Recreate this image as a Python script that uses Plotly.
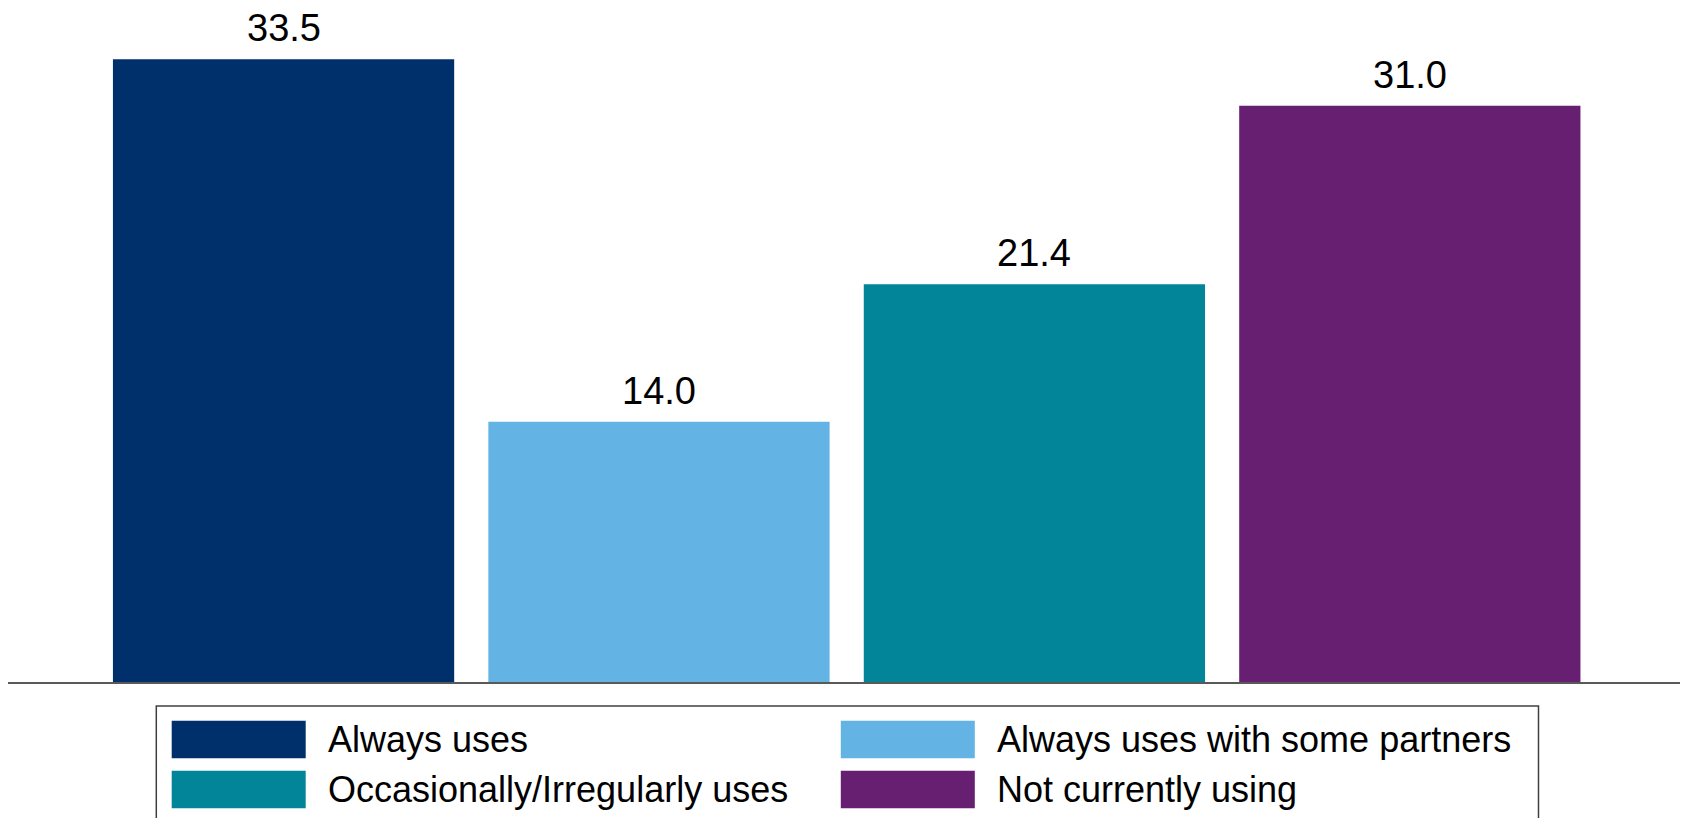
import plotly.graph_objects as go

categories = ["Always uses", "Always uses with some partners",
              "Occasionally/Irregularly uses", "Not currently using"]
values = [33.5, 14.0, 21.4, 31.0]
labels = ["33.5", "14.0", "21.4", "31.0"]
colors = ["#00306C", "#63B4E4", "#028599", "#661F71"]

# page body has an 8px margin; figure coordinates are reference minus 8
OFF = 8
W, H = 1680, 810
ML, MR, MT, MB = 0, 3, 30, 136
PW, PH = W - ML - MR, H - MT - MB

FONT = "Liberation Sans, Arial, sans-serif"

fig = go.Figure()
for cat, val, col in zip(categories, values, colors):
    fig.add_trace(go.Bar(
        x=[cat], y=[val], name=cat, width=0.909,
        marker=dict(color=col, line=dict(width=0)),
        showlegend=False, hoverinfo="x+y",
    ))

annotations = []
for cat, val, lab in zip(categories, values, labels):
    annotations.append(dict(
        x=cat, y=val, xref="x", yref="y", text=lab, showarrow=False,
        yanchor="bottom", yshift=8,
        font=dict(family=FONT, size=38, color="#000000"),
    ))

def px_x(px):
    return (px - OFF - ML) / PW

def px_y(py):
    return (H - MB - (py - OFF)) / PH

# custom legend (2 columns x 2 rows)
col_x = [171.7, 840.8]
row_y = [720.7, 770.7]
sw_w, sw_h = 134, 37.5
shapes = [dict(type="rect", xref="paper", yref="paper",
               x0=px_x(156.3), x1=px_x(1538.5), y0=px_y(706), y1=px_y(840),
               line=dict(color="#404040", width=1.5), fillcolor="rgba(0,0,0,0)")]
for i, idx in enumerate(range(len(categories))):
    r, c = divmod(i, 2)
    x0 = col_x[c]
    y0 = row_y[r]
    shapes.append(dict(type="rect", xref="paper", yref="paper",
                       x0=px_x(x0), x1=px_x(x0 + sw_w),
                       y0=px_y(y0 + sw_h), y1=px_y(y0),
                       line=dict(width=0), fillcolor=colors[idx]))
    annotations.append(dict(
        xref="paper", yref="paper", x=px_x(x0 + sw_w + 20), y=px_y(y0 + sw_h / 2),
        xanchor="left", yanchor="middle", showarrow=False,
        text=categories[idx], font=dict(family=FONT, size=36, color="#000000"),
    ))

fig.update_layout(
    width=W, height=H,
    margin=dict(l=ML, r=MR, t=MT, b=MB, pad=0),
    paper_bgcolor="white", plot_bgcolor="white",
    barmode="overlay",
    xaxis=dict(range=[-0.734, 3.733], showticklabels=False, ticks="",
               showgrid=False, zeroline=False, showline=True,
               linecolor="#595959", linewidth=1.5, fixedrange=True),
    yaxis=dict(range=[0, PH / 18.59], visible=False, showgrid=False,
               zeroline=False, fixedrange=True),
    annotations=annotations,
    shapes=shapes,
    showlegend=False,
)

fig.write_html("out.html")
